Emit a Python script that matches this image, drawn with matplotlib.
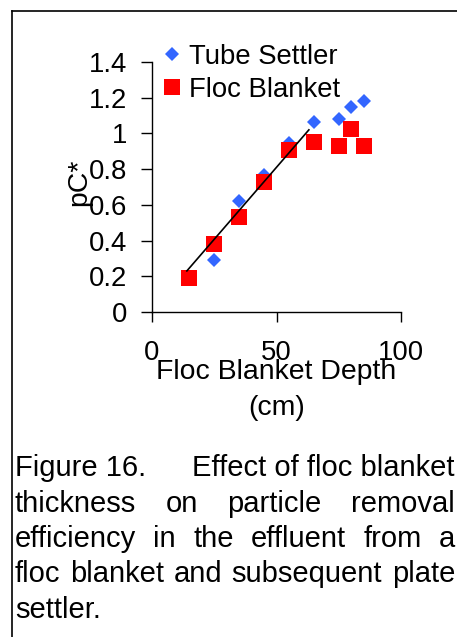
import matplotlib
matplotlib.use("Agg")
import matplotlib.pyplot as plt
from matplotlib.lines import Line2D
from matplotlib.ticker import FormatStrFormatter

plt.rcParams['font.family'] = ['Liberation Sans', 'DejaVu Sans']

# data
tube_x = [25, 35, 45, 55, 65, 75, 80, 85]
tube_y = [0.29, 0.62, 0.77, 0.945, 1.065, 1.08, 1.15, 1.18]
floc_x = [15, 25, 35, 45, 55, 65, 75, 80, 85]
floc_y = [0.19, 0.38, 0.53, 0.73, 0.905, 0.95, 0.93, 1.025, 0.93]
fit_x = [14, 63]          # trend line through the linear part
fit_y = [0.23, 1.02]
x_ticks = [0, 50, 100]
y_ticks = [0, 0.2, 0.4, 0.6, 0.8, 1.0, 1.2, 1.4]

caption = [
    ["Figure 16.", "Effect of floc blanket"],
    ["thickness", "on", "particle", "removal"],
    ["efficiency", "in", "the", "effluent", "from", "a"],
    ["floc", "blanket", "and", "subsequent", "plate"],
    ["settler."],
]

W, H = 457, 637
fs = 19.8
lab_fs = 20.4
cap_fs = 21

fig = plt.figure(figsize=(W / 100, H / 100), dpi=100)
ax = fig.add_axes([152 / W, 1 - 312 / H, 249 / W, 250 / H])

ax.plot(tube_x, tube_y, 'D', color='#3366FF', ms=7.2, mew=0, label='Tube Settler', zorder=2)
ax.plot(floc_x, floc_y, 's', color='#FF0000', ms=11, mew=0, label='Floc Blanket', zorder=3)
ax.plot(fit_x, fit_y, '-', color='black', lw=1.2, zorder=4)

ax.set_xlim(0, 100)
ax.set_ylim(0, 1.4)
ax.set_xticks(x_ticks)
ax.set_yticks(y_ticks)
ax.yaxis.set_major_formatter(FormatStrFormatter('%g'))
for s in ['top', 'right']:
    ax.spines[s].set_visible(False)
for s in ['left', 'bottom']:
    ax.spines[s].set_linewidth(1.0)
ax.tick_params(axis='x', direction='out', length=7, width=1, pad=13, labelsize=fs)
ax.tick_params(axis='y', direction='out', length=8, width=1, pad=10, labelsize=fs)

ax.legend(loc='upper left', bbox_to_anchor=(158 / W, 1 - 44 / H), bbox_transform=fig.transFigure,
          frameon=False, fontsize=fs, handlelength=1.0, handletextpad=0.14,
          labelspacing=0.25, borderpad=0, borderaxespad=0)

fig.text(79 / W, 1 - 182 / H, "pC*", rotation=90, ha='center', va='center', fontsize=lab_fs)
fig.text(276.5 / W, 1 - 379 / H, "Floc Blanket Depth", ha='center', va='baseline', fontsize=lab_fs)
fig.text(276.5 / W, 1 - 415 / H, "(cm)", ha='center', va='baseline', fontsize=lab_fs)

# border lines of the frame
fig.add_artist(Line2D([12 / W, 1], [1 - 11 / H, 1 - 11 / H], color='black', lw=1.2))
fig.add_artist(Line2D([12 / W, 12 / W], [0, 1 - 11 / H], color='black', lw=1.2))

# justified caption
renderer = fig.canvas.get_renderer()
baselines = [476, 511.5, 547, 582.5, 618]
x0, x1 = 15, 455
for words, yb in zip(caption, baselines):
    texts = [fig.text(0, 0, w, fontsize=cap_fs, ha='left', va='baseline') for w in words]
    widths = [t.get_window_extent(renderer).width for t in texts]
    if len(words) > 1:
        gap = (x1 - x0 - sum(widths)) / (len(words) - 1)
    else:
        gap = 0
    x = x0
    for t, w in zip(texts, widths):
        t.set_position((x / W, 1 - yb / H))
        x += w + gap

fig.savefig("out.png", dpi=100)
